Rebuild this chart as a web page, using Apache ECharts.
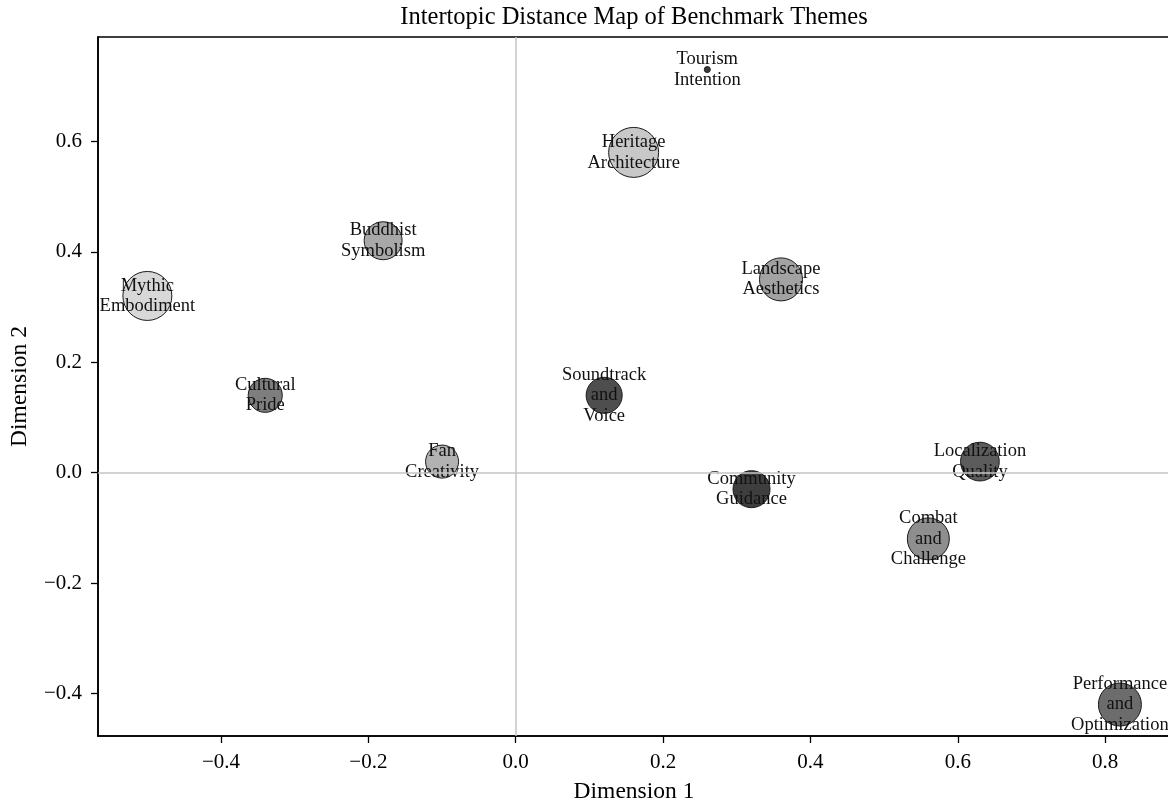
<!DOCTYPE html>
<html>
<head>
<meta charset="utf-8">
<script src="https://cdn.jsdelivr.net/npm/echarts@6/dist/echarts.min.js"></script>
<style>
html,body{margin:0;padding:0;background:#fff;}
#chart{width:1168px;height:804px;}
</style>
</head>
<body>
<div id="chart"></div>
<script>
// ---- data ----
var topics = [
  "Tourism\nIntention",
  "Heritage\nArchitecture",
  "Landscape\nAesthetics",
  "Buddhist\nSymbolism",
  "Mythic\nEmbodiment",
  "Cultural\nPride",
  "Fan\nCreativity",
  "Soundtrack\nand\nVoice",
  "Community\nGuidance",
  "Localization\nQuality",
  "Combat\nand\nChallenge",
  "Performance\nand\nOptimization"
];
var dim1 = [0.26, 0.16, 0.36, -0.18, -0.50, -0.34, -0.10, 0.12, 0.32, 0.63, 0.56, 0.82];
var dim2 = [0.73, 0.58, 0.35, 0.42, 0.32, 0.14, 0.02, 0.14, -0.03, 0.02, -0.12, -0.42];
var prevalence = [0.36, 25.0, 18.5, 14.4, 24.0, 11.6, 10.9, 13.0, 13.7, 15.0, 17.6, 18.5];
var xTicks = [-0.4, -0.2, 0.0, 0.2, 0.4, 0.6, 0.8];
var yTicks = [-0.4, -0.2, 0.0, 0.2, 0.4, 0.6];

// ---- styles ----
var fillColors = ["#3a3a3a", "#c8c8c8", "#a2a2a2", "#a8a8a8", "#d8d8d8", "#7e7e7e",
                  "#b2b2b2", "#4e4e4e", "#3e3e3e", "#5c5c5c", "#8e8e8e", "#6c6c6c"];
var SERIF = "'Liberation Serif','Times New Roman',serif";

function fmt(v) {
  var s = Math.abs(v).toFixed(1);
  return (v < -1e-9 ? "\u2212" : "") + s;
}

var points = topics.map(function (t, i) {
  return {
    name: t,
    value: [dim1[i], dim2[i], prevalence[i]],
    itemStyle: { color: fillColors[i] }
  };
});

var chart = echarts.init(document.getElementById('chart'), null, { renderer: 'canvas' });
chart.setOption({
  backgroundColor: '#ffffff',
  animation: false,
  textStyle: { fontFamily: SERIF },
  graphic: [
    {
      type: 'text', x: 634, y: 18,
      style: {
        text: 'Intertopic Distance Map of Benchmark Themes',
        fontFamily: SERIF, fontSize: 24.5, fill: '#000',
        align: 'center', verticalAlign: 'middle'
      }
    }
  ],
  grid: {
    left: 98, right: -2, top: 37, bottom: 68, containLabel: false,
    outerBoundsMode: 'none',
    show: true, borderColor: '#000', borderWidth: 1.6, backgroundColor: 'transparent'
  },
  xAxis: {
    type: 'value', min: -0.567, max: 0.888,
    name: 'Dimension 1', nameLocation: 'middle', nameGap: 44,
    nameTextStyle: { fontFamily: SERIF, fontSize: 23.5, color: '#000' },
    axisLine: { show: true, onZero: false, lineStyle: { color: '#000', width: 1.6 } },
    axisTick: { show: true, inside: false, length: 7, customValues: xTicks, lineStyle: { color: '#000', width: 1.3 } },
    axisLabel: { show: true, customValues: xTicks, formatter: fmt, margin: 16, fontFamily: SERIF, fontSize: 21, color: '#000' },
    splitLine: { show: false }
  },
  yAxis: {
    type: 'value', min: -0.477, max: 0.789,
    name: 'Dimension 2', nameLocation: 'middle', nameGap: 66, nameRotate: 90,
    nameTextStyle: { fontFamily: SERIF, fontSize: 23.5, color: '#000' },
    axisLine: { show: true, onZero: false, lineStyle: { color: '#000', width: 1.6 } },
    axisTick: { show: true, inside: false, length: 7, customValues: yTicks, lineStyle: { color: '#000', width: 1.3 } },
    axisLabel: { show: true, customValues: yTicks, formatter: fmt, margin: 16, fontFamily: SERIF, fontSize: 21, color: '#000' },
    splitLine: { show: false }
  },
  series: [
    {
      type: 'scatter', data: [], z: 1, silent: true,
      markLine: {
        silent: true, symbol: 'none', animation: false,
        label: { show: false },
        lineStyle: { color: '#c4c4c4', width: 1.5, type: 'solid' },
        data: [{ xAxis: 0 }, { yAxis: 0 }]
      }
    },
    {
      type: 'scatter', z: 3,
      data: points,
      symbol: 'circle',
      symbolSize: function (v) { return 10 * Math.sqrt(v[2]); },
      itemStyle: { borderColor: '#1a1a1a', borderWidth: 1, opacity: 1 },
      label: {
        show: true, position: 'inside',
        formatter: function (p) { return p.name; },
        fontFamily: SERIF, fontSize: 18.5, lineHeight: 20.5, color: '#111', align: 'center'
      },
      emphasis: { disabled: true }
    }
  ]
});
</script>
</body>
</html>
